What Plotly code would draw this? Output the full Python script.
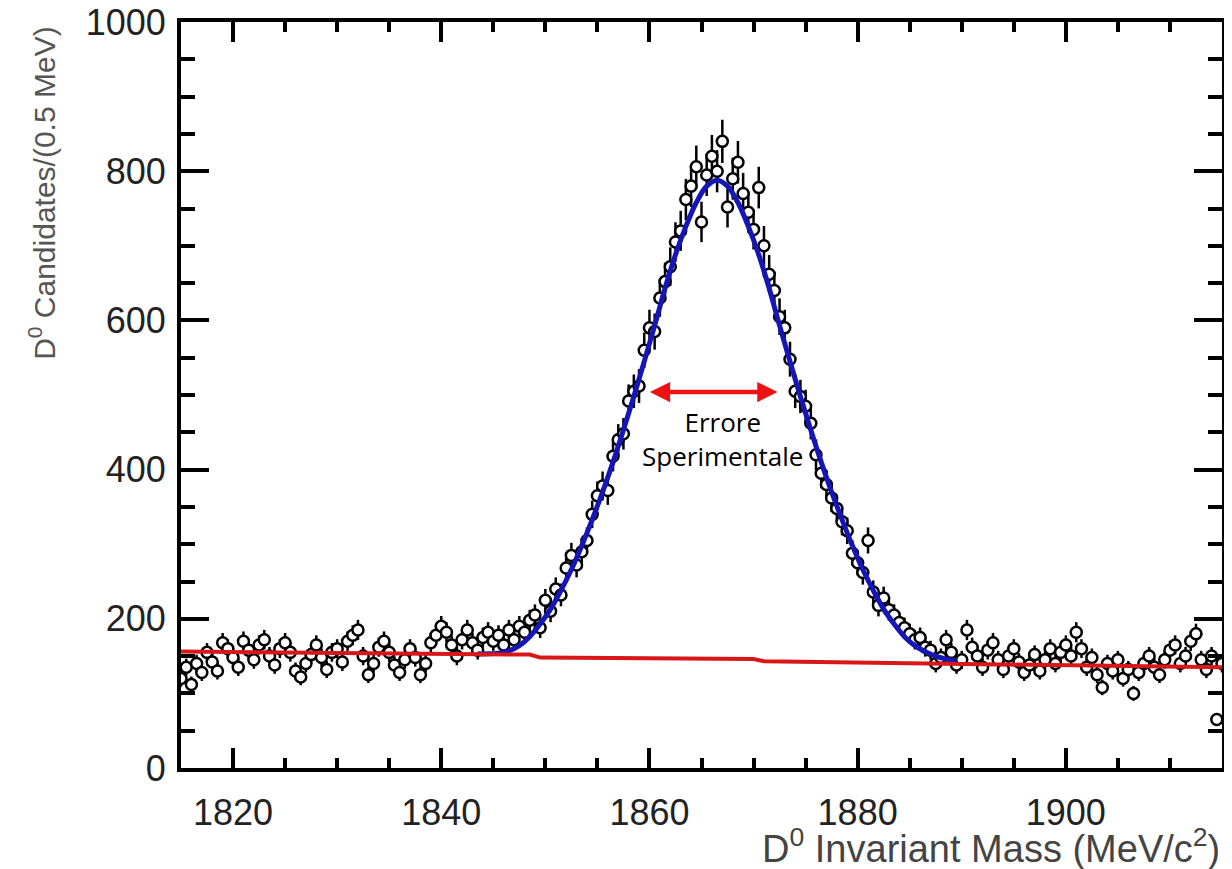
import numpy as np
import plotly.graph_objects as go

# D0 invariant mass spectrum, 0.5 MeV bins
mass = [1815.0 + 0.5 * i for i in range(201)]
counts = [
    120, 135, 112, 140, 128, 155, 142, 130, 168, 160,
    148, 135, 170, 158, 145, 165, 172, 150, 138, 160,
    168, 155, 130, 122, 140, 152, 165, 148, 132, 155,
    160, 142, 170, 178, 185, 150, 125, 140, 162, 170,
    155, 138, 128, 145, 160, 148, 125, 140, 168, 178,
    190, 182, 165, 150, 172, 185, 168, 158, 175, 182,
    170, 178, 165, 185, 172, 190, 182, 198, 205, 188,
    225, 210, 240, 232, 268, 285, 272, 290, 305, 340,
    365, 378, 372, 418, 440, 448, 492, 505, 512, 560,
    590, 585, 630, 652, 672, 705, 720, 762, 780, 806,
    732, 795, 820, 800, 840, 752, 790, 812, 770, 745,
    722, 778, 700, 662, 640, 605, 590, 548, 505, 498,
    485, 462, 420, 395, 380, 362, 348, 330, 318, 288,
    275, 262, 305, 236, 218, 228, 212, 205, 195, 188,
    180, 172, 175, 162, 158, 140, 148, 172, 155, 138,
    145, 185, 162, 150, 135, 158, 168, 145, 132, 150,
    160, 142, 128, 138, 152, 130, 145, 160, 140, 155,
    165, 150, 182, 160, 135, 148, 125, 108, 140, 130,
    145, 120, 132, 100, 128, 140, 150, 135, 125, 145,
    158, 165, 140, 150, 170, 180, 145, 132, 150, 65,
    140,
]

# signal + background fit
fit_mass = [1843.5 + i for i in range(47)]
fit_counts = [
    153, 153, 154, 157, 164, 176, 193, 213, 238, 266,
    298, 333, 370, 410, 453, 498, 545, 593, 643, 688,
    726, 758, 780, 788, 780, 758, 726, 688, 643, 593,
    545, 498, 453, 410, 370, 333, 298, 266, 238, 213,
    193, 176, 164, 156, 150, 146, 143,
]

# background component
bkg_mass = [1815, 1848.5, 1849.5, 1870, 1871, 1915]
bkg_counts = [156, 152, 148, 146, 143, 135]

fig = go.Figure()

fig.add_trace(go.Scatter(
    x=mass, y=counts,
    mode="markers",
    marker=dict(symbol="circle", size=11, color="white",
                line=dict(color="black", width=2.5)),
    error_y=dict(type="data", array=np.sqrt(counts), color="black",
                 thickness=2.5, width=0),
    showlegend=False))

fig.add_trace(go.Scatter(
    x=fit_mass, y=fit_counts,
    mode="lines", line=dict(color="#1616b8", width=5, shape="spline"),
    showlegend=False))

fig.add_trace(go.Scatter(
    x=bkg_mass, y=bkg_counts,
    mode="lines", line=dict(color="#d81818", width=4),
    showlegend=False))

# experimental width arrow
fig.add_annotation(
    x=1872.3, y=504, ax=1859.9, ay=504,
    xref="x", yref="y", axref="x", ayref="y",
    text="", showarrow=True, arrowside="end+start",
    arrowhead=2, arrowsize=0.9, arrowwidth=4.5, arrowcolor="#ee1111")
fig.add_annotation(
    x=1867.0, y=441, xref="x", yref="y",
    text="Errore<br>Sperimentale", showarrow=False,
    font=dict(family="Open Sans", size=26, color="black"))

fig.add_annotation(
    x=-0.1335, y=0.771, xref="paper", yref="paper",
    text="D<sup>0</sup> Candidates/(0.5 MeV)", textangle=-90,
    showarrow=False, xanchor="center", yanchor="middle",
    font=dict(family="Liberation Sans", size=30, color="#555"))
fig.add_annotation(
    x=1.0, y=-0.105, xref="paper", yref="paper",
    text="D<sup>0</sup> Invariant Mass (MeV/c<sup>2</sup>)",
    showarrow=False, xanchor="right", yanchor="middle",
    font=dict(family="Liberation Sans", size=38, color="#444"))

# page body adds an 8px offset, so the figure is sized to fit the window
fig.update_layout(
    width=1224, height=861,
    margin=dict(l=173, r=10, t=14, b=101),
    plot_bgcolor="white", paper_bgcolor="white",
    font=dict(family="Liberation Sans", size=36, color="#222"))

fig.update_xaxes(
    range=[1815, 1915], tickvals=[1820, 1840, 1860, 1880, 1900],
    ticks="inside", ticklen=20, tickwidth=4, tickcolor="black",
    minor=dict(dtick=5, ticks="inside", ticklen=10, tickwidth=4, tickcolor="black"),
    showline=True, linewidth=4, linecolor="black", mirror="ticks",
    showgrid=False, zeroline=False, ticklabelstandoff=10, automargin=False,
    ticklabeloverflow="allow")
fig.update_yaxes(
    range=[0, 1000], tickvals=[0, 200, 400, 600, 800, 1000],
    ticks="inside", ticklen=28, tickwidth=4, tickcolor="black",
    minor=dict(dtick=50, ticks="inside", ticklen=14, tickwidth=4, tickcolor="black"),
    showline=True, linewidth=4, linecolor="black", mirror="ticks",
    showgrid=False, zeroline=False, ticklabelstandoff=4, automargin=False,
    ticklabeloverflow="allow")

fig.write_html("out.html")
